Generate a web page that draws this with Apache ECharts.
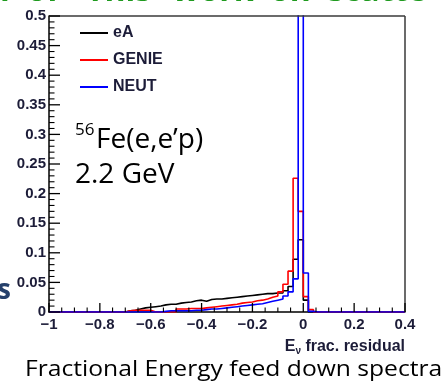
<!DOCTYPE html>
<html>
<head>
<meta charset="utf-8">
<script src="https://cdn.jsdelivr.net/npm/echarts@6.0.0/dist/echarts.min.js"></script>
<style>
html,body{margin:0;padding:0;background:#fff;}
#c{width:447px;height:387px;}
</style>
</head>
<body>
<div id="c"></div>
<script>
// Histogram binning (E_nu fractional residual), bins of width 0.02 from -1 to 0.4
var binStart = -1;
var binWidth = 0.02;
var xTicks = [-1, -0.8, -0.6, -0.4, -0.2, 0, 0.2, 0.4];
var yTicks = [0, 0.05, 0.1, 0.15, 0.2, 0.25, 0.3, 0.35, 0.4, 0.45, 0.5];
var seriesNames = ['eA', 'GENIE', 'NEUT'];

var eA = [
  0,0,0,0,0,0,0,0,0,0,0,0,0,0,0,
  0.002,0.003,0.005,0.007,0.008,0.009,0.010,0.012,0.013,0.013,
  0.015,0.016,0.017,0.019,0.020,0.018,0.021,0.022,0.022,0.023,
  0.024,0.025,0.026,0.027,0.028,0.029,0.030,0.031,0.031,0.032,
  0.032,0.036,0.043,0.089,0.122,0.020,
  0,0,0,0,0,0,0,0,0,0,0,0,0,0,0,0,0,0,0
];
var GENIE = [
  0,0,0,0,0,0,0,0,0,0,0,0,0,0,0,
  0.002,0.003,0.003,0.003,0.003,
  0,0,0,0,0,
  0.005,0.005,0.006,0.006,0.006,0.007,0.008,0.009,0.010,0.011,
  0.012,0.013,0.015,0.016,0.017,0.019,0.020,0.022,0.025,0.027,
  0.034,0.047,0.069,0.226,0.170,0.026,0.004,
  0,0,0,0,0,0,0,0,0,0,0,0,0,0,0,0,0,0
];
var NEUT = [
  0,0,0,0,0,0,0,0,0,0,0,0,0,0,0,0,0,0,0,0,0,0,
  0.001,0.002,0.002,0.002,0.002,0.002,0.003,0.003,0.004,0.005,
  0.005,0.006,0.007,0.008,0.009,0.010,0.011,0.012,0.013,0.014,
  0.016,0.018,0.020,0.022,0.027,0.034,0.056,0.62,0.066,0.001,
  0,0,0,0,0,0,0,0,0,0,0,0,0,0,0,0,0,0
];

function steps(vals){
  var pts = [];
  for (var i = 0; i < vals.length; i++){
    var lo = +(binStart + i*binWidth).toFixed(4);
    var hi = +(binStart + (i+1)*binWidth).toFixed(4);
    pts.push([lo, vals[i]], [hi, vals[i]]);
  }
  return pts;
}
function fmt(v){
  var s = String(+(+v).toFixed(2));
  return s.replace('-', '\u2212');
}
function subdivide(majors, n){
  var out = [];
  for (var i = 0; i < majors.length - 1; i++){
    var step = (majors[i+1] - majors[i]) / n;
    for (var j = 1; j < n; j++) out.push(majors[i] + j*step);
  }
  return out;
}
var xMinor = subdivide(xTicks, 4);
var yMinor = subdivide(yTicks, 5);

var chart = echarts.init(document.getElementById('c'), null, {renderer:'canvas'});
var colors = ['#000000', '#ff0000', '#0000ff'];
var green = '#1f9a1f';
var titleFont = 'bold 32px "Open Sans"';

function frameAndTicks(params, api){
  var ch = [];
  var xMin = xTicks[0], xMax = xTicks[xTicks.length-1];
  var yMin = yTicks[0], yMax = yTicks[yTicks.length-1];
  function seg(a, b, col, w){
    ch.push({type:'line', shape:{x1:a[0], y1:a[1], x2:b[0], y2:b[1]}, style:{stroke:col, lineWidth:w}});
  }
  var bl = api.coord([xMin, yMin]), tl = api.coord([xMin, yMax]);
  var br = api.coord([xMax, yMin]), tr = api.coord([xMax, yMax]);
  seg(tl, tr, '#3a3a3a', 1.5);
  seg(br, tr, '#3a3a3a', 1.5);
  xTicks.forEach(function(v){ var p = api.coord([v, yMin]); seg(p, [p[0], p[1]-9], '#000', 1.3); });
  xMinor.forEach(function(v){ var p = api.coord([v, yMin]); seg(p, [p[0], p[1]-4.5], '#000', 1.1); });
  yTicks.forEach(function(v){ var p = api.coord([xMin, v]); seg(p, [p[0]+11, p[1]], '#000', 1.3); });
  yMinor.forEach(function(v){ var p = api.coord([xMin, v]); seg(p, [p[0]+5.5, p[1]], '#000', 1.1); });
  return {type:'group', children:ch};
}

var series = [eA, GENIE, NEUT].map(function(vals, k){
  return {
    name:seriesNames[k], type:'line', data:steps(vals), showSymbol:false, symbol:'none',
    clip:true, z:2+k,
    lineStyle:{color:colors[k], width:1.6}, itemStyle:{color:colors[k]}
  };
});
series.push({type:'custom', name:'frame', data:[[0,0]], renderItem:frameAndTicks, clip:false, z:6});

chart.setOption({
  animation:false,
  grid:{left:49, right:42, top:16, bottom:75},
  legend:{
    orient:'vertical', left:75, top:20, itemWidth:28, itemHeight:2, itemGap:11, icon:'rect',
    data:seriesNames,
    textStyle:{fontFamily:'Liberation Sans', fontWeight:'bold', fontSize:16, lineHeight:16, color:'#1c1c38'}
  },
  xAxis:{
    type:'value', min:xTicks[0], max:xTicks[xTicks.length-1], interval:0.2,
    splitLine:{show:false},
    axisLine:{show:true, onZero:false, lineStyle:{color:'#000', width:1.5}},
    axisTick:{show:false},
    axisLabel:{margin:5, formatter:fmt, showMinLabel:true, showMaxLabel:true,
      fontFamily:'Liberation Sans', fontWeight:'bold', fontSize:15, color:'#1c1c38'}
  },
  yAxis:{
    type:'value', min:yTicks[0], max:yTicks[yTicks.length-1], interval:0.05,
    splitLine:{show:false},
    axisLine:{show:true, onZero:false, lineStyle:{color:'#000', width:1.5}},
    axisTick:{show:false},
    axisLabel:{margin:3, formatter:fmt,
      fontFamily:'Liberation Sans', fontWeight:'bold', fontSize:15, color:'#1c1c38'}
  },
  series:series,
  graphic:[
    {type:'text', left:0, top:-24, z:10, style:{text:'r', font:titleFont, fill:green}},
    {type:'text', left:27, top:-24, z:10, style:{text:'of', font:titleFont, fill:green}},
    {type:'text', left:86, top:-24, z:10, style:{text:'This', font:titleFont, fill:green}},
    {type:'text', left:172, top:-24, z:10, style:{text:'work', font:titleFont, fill:green}},
    {type:'text', left:270, top:-24, z:10, style:{text:'on', font:titleFont, fill:green}},
    {type:'text', left:328, top:-24, z:10, style:{text:'scatte', font:titleFont, fill:green}},
    {type:'text', x:75, y:130, style:{text:'56', font:'17px "Open Sans"', fill:'#000', verticalAlign:'middle'}},
    {type:'text', x:96, y:140, style:{text:'Fe(e,e\u2019p)', font:'28px "Open Sans"', fill:'#000', verticalAlign:'middle'}},
    {type:'text', x:75, y:175, style:{text:'2.2 GeV', font:'28px "Open Sans"', fill:'#000', verticalAlign:'middle'}},
    {type:'text', x:-3, y:291, style:{text:'s', font:'bold 28px "Open Sans"', fill:'#25406b', verticalAlign:'middle'}},
    {type:'text', x:405, y:347, style:{
      text:'{e|E}{sub|\u03bd}{e| frac. residual}', align:'right', verticalAlign:'middle',
      rich:{
        e:{fontFamily:'Liberation Sans', fontWeight:'bold', fontSize:16, fill:'#1c1c38'},
        sub:{fontFamily:'Liberation Sans', fontWeight:'bold', fontSize:10, fill:'#1c1c38', padding:[8,0,0,0]}
      }
    }},
    {type:'text', x:25, y:370, scaleX:1.12, style:{text:'Fractional Energy feed down spectra', font:'22px "Open Sans"', fill:'#000', verticalAlign:'middle'}}
  ]
});
</script>
</body>
</html>
